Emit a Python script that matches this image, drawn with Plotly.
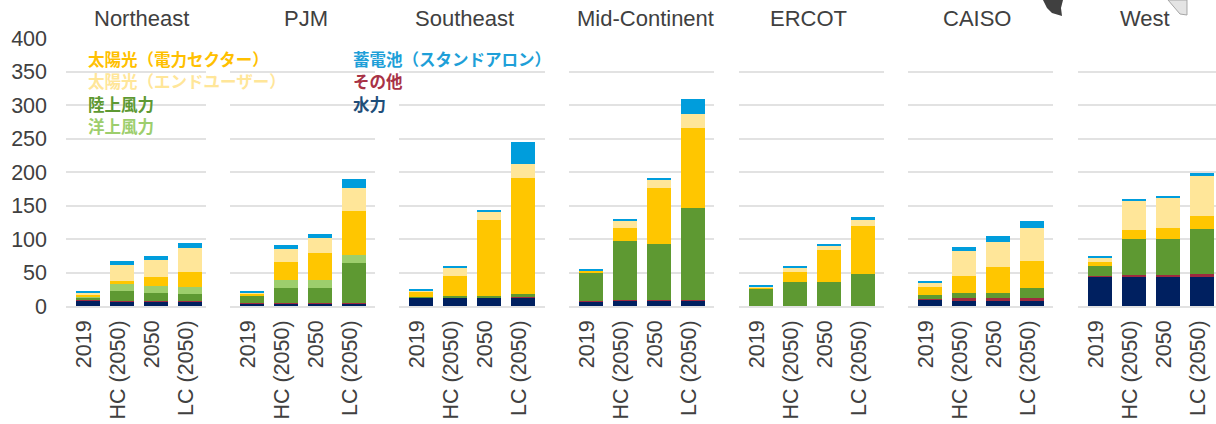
import plotly.graph_objects as go

regions = ["Northeast", "PJM", "Southeast", "Mid-Continent", "ERCOT", "CAISO", "West"]
cases = ["2019", "HC (2050)", "2050", "LC (2050)"]

# Values per region, in the order of `cases`
hydro = [[7, 6, 6, 6], [4, 4, 4, 4], [12, 12, 12, 12], [7, 8, 8, 8],
         [0, 0, 0, 0], [9, 8, 8, 8], [44, 43, 43, 43]]
other = [[3, 2, 2, 2], [1, 1, 1, 1], [1, 1, 1, 1.5], [1, 1, 1, 1],
         [0, 0, 0, 0], [1.5, 3.5, 3.5, 4.5], [1, 3.5, 3.5, 5.5]]
onshore = [[2, 15, 11, 9.5], [10, 22.5, 22.5, 59], [1, 2.5, 2.5, 5], [41.5, 88.5, 83, 138],
           [25, 36.5, 36.5, 48], [6, 7.5, 7.5, 15], [15, 54, 54, 66]]
offshore = [[1, 10, 11, 11], [0, 12, 12, 11.5], [0, 0, 0, 0], [0, 0, 0, 0],
            [0, 0, 0, 0], [0, 0, 0, 0], [0, 0, 0, 0]]
solar_utility = [[4, 5, 14, 22], [3, 26, 40, 67], [8, 29, 112.5, 173], [3, 19.5, 84.5, 118.5],
                 [3, 15, 47, 71], [11.5, 26.5, 39, 40], [5.5, 13.5, 16, 20]]
solar_enduser = [[3, 23, 25, 36], [2, 19, 22, 33], [1, 12.5, 12.5, 20], [0.5, 10, 11, 21],
                 [1, 5, 6.5, 9], [7, 37, 38, 49], [7.5, 43, 46, 59]]
storage = [[1, 6, 5, 8], [1, 6, 6.5, 14.5], [1, 3, 2.5, 33], [1, 3, 3, 22],
           [1, 3, 3, 5], [3, 6, 8, 10], [2, 1.5, 2, 5]]

series_names = ["水力", "その他", "陸上風力", "洋上風力", "太陽光（電力セクター）", "太陽光（エンドユーザー）", "蓄電池（スタンドアロン）"]
series_values = [hydro, other, onshore, offshore, solar_utility, solar_enduser, storage]
series_colors = ["#002060", "#9E2A3F", "#5E9932", "#9DCE6C", "#FFC600", "#FFE699", "#009DDC"]

W, H = 1216, 424
panel_edges = [(66, 206), (230, 375), (399, 545), (569, 714), (739, 884), (908, 1053), (1078, 1216)]
title_centers = [141, 306, 464, 645, 808, 977, 1145]
PLOT_TOP, PLOT_BOTTOM = 38, 306
BAND = 33.9
FIRST = 22
TEXT = "#404040"
GRID = "#E2E2E2"
FONT = "Liberation Sans, Arial, sans-serif"

fig = go.Figure()
layout_axes = {}
annotations = []

for i, region in enumerate(regions):
    suffix = "" if i == 0 else str(i + 1)
    for name, values, color in zip(series_names, series_values, series_colors):
        fig.add_trace(go.Bar(
            x=[0, 1, 2, 3], y=values[i], name=name, marker=dict(color=color, line_width=0),
            width=0.72, xaxis="x" + suffix, yaxis="y" + suffix, showlegend=False,
        ))
    left, right = panel_edges[i]
    layout_axes["xaxis" + suffix] = dict(
        domain=[left / W, right / W], anchor="y" + suffix, automargin=False,
        range=[-FIRST / BAND, (right - left - FIRST) / BAND],
        tickmode="array", tickvals=[0, 1, 2, 3], ticktext=cases, tickangle=-90,
        ticks="", ticklabelstandoff=4, ticklabelshift=-4, showgrid=False, zeroline=False,
        showline=True, linecolor=GRID, linewidth=1.5,
        tickfont=dict(family=FONT, size=21.5, color=TEXT),
    )
    layout_axes["yaxis" + suffix] = dict(
        domain=[1 - PLOT_BOTTOM / H, 1 - PLOT_TOP / H], anchor="x" + suffix, automargin=False,
        range=[0, 400], tickmode="array", tickvals=list(range(0, 401, 50)),
        showticklabels=(i == 0), ticks="", ticklabelstandoff=18,
        showgrid=True, gridcolor=GRID, gridwidth=1.5, zeroline=False, showline=False,
        tickfont=dict(family=FONT, size=21.5, color=TEXT),
    )
    annotations.append(dict(
        text=region, xref="paper", yref="paper",
        x=title_centers[i] / W, y=1 - 18 / H, xanchor="center", yanchor="middle",
        showarrow=False, font=dict(family=FONT, size=22, color=TEXT),
    ))

# Legend drawn as coloured labels, in two columns
legend_left = ["太陽光（電力セクター）", "太陽光（エンドユーザー）", "陸上風力", "洋上風力"]
legend_left_colors = ["#FFC000", "#FFE699", "#5E9932", "#9DCE6C"]
legend_right = ["蓄電池（スタンドアロン）", "その他", "水力"]
legend_right_colors = ["#1E9FD8", "#A83246", "#1F4E79"]
for col_x, labels, colors in [(86, legend_left, legend_left_colors), (351, legend_right, legend_right_colors)]:
    for row, (label, color) in enumerate(zip(labels, colors)):
        annotations.append(dict(
            text="<b>" + label + "</b>", xref="paper", yref="paper",
            x=col_x / W, y=1 - (59 + row * 22.3) / H, xanchor="left", yanchor="middle",
            showarrow=False, font=dict(family="Noto Sans CJK JP", size=16.5, color=color),
        ))


def px_path(points):
    return "M " + " L ".join(f"{x / W:.5f} {1 - y / H:.5f}" for x, y in points) + " Z"


# Fragments of the map that is cut off by the top of the picture
shapes = [
    dict(type="path", xref="paper", yref="paper", layer="above", line_width=0, fillcolor="#404040",
         path=px_path([(1043, 0), (1047, 8), (1052, 13), (1062, 16), (1061, 8), (1063, 0)])),
    dict(type="path", xref="paper", yref="paper", layer="above", line=dict(color="#A6A6A6", width=1),
         fillcolor="#E4E4E4",
         path=px_path([(1168, 0), (1174, 7), (1180, 14), (1187, 15), (1187, 0)])),
]

fig.update_layout(
    width=W, height=H, margin=dict(l=0, r=0, t=0, b=0, autoexpand=False), barmode="stack", bargap=0.28,
    paper_bgcolor="white", plot_bgcolor="white", font=dict(family=FONT, color=TEXT),
    annotations=annotations, shapes=shapes, **layout_axes,
)
fig.write_html("out.html", config={"displayModeBar": False}, post_script="document.body.style.margin='0';")
